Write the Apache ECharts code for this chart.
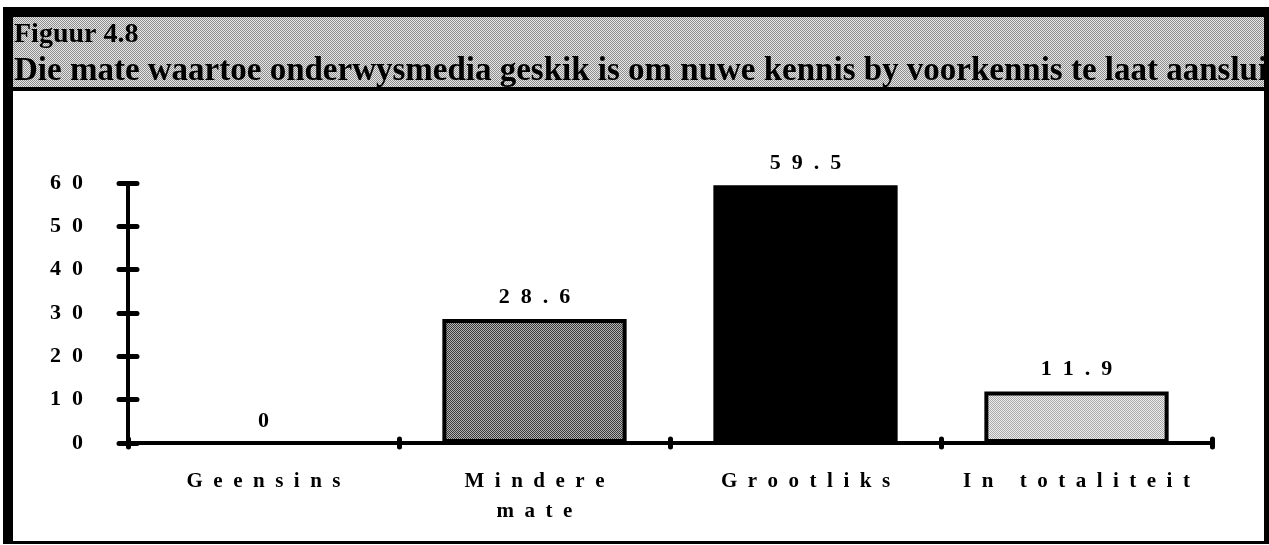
<!DOCTYPE html>
<html>
<head>
<meta charset="utf-8">
<script src="https://cdn.jsdelivr.net/npm/echarts@6/dist/echarts.min.js"></script>
<style>
  html, body { margin: 0; padding: 0; background: #fff; }
  #chart { width: 1269px; height: 545px; }
</style>
</head>
<body>
<div id="chart"></div>
<script>
// ====== DATA ======
const figureLabel = "Figuur 4.8"
const figureTitle = "Die mate waartoe onderwysmedia geskik is om nuwe kennis by voorkennis te laat aansluit"
const categories = ["Geensins", "Mindere\nmate", "Grootliks", "In totaliteit"]
const percentages = [0, 28.6, 59.5, 11.9]
const yTicks = [0, 10, 20, 30, 40, 50, 60]

// ====== HELPERS ======
const serif = "'Liberation Serif', 'Times New Roman', serif"

// spread the characters the way the printed chart does
function spaced(s, gap = "\u2002") {
  return String(s).split("\n")
    .map(line => line.split("").join(gap))
    .join("\n")
}

// small halftone tile used as a pattern fill
function stipple(dark, light) {
  const c = document.createElement("canvas")
  c.width = 2
  c.height = 2
  const ctx = c.getContext("2d")
  ctx.fillStyle = light
  ctx.fillRect(0, 0, 2, 2)
  ctx.fillStyle = dark
  ctx.fillRect(0, 0, 1, 1)
  ctx.fillRect(1, 1, 1, 1)
  return { image: c, repeat: "repeat" }
}

const headerFill = stipple("#8e8e8e", "#e6e6e6")
const barFills = [
  "#ffffff",
  stipple("#3a3a3a", "#b4b4b4"),
  "#000000",
  stipple("#a8a8a8", "#eeeeee")
]

const chart = echarts.init(document.getElementById("chart"))

chart.setOption({
  backgroundColor: "#ffffff",
  animation: false,

  title: [
    {
      text: figureLabel,
      left: 14,
      top: 21,
      padding: 0,
      z: 20,
      textStyle: { fontFamily: serif, fontWeight: "bold", fontSize: 28, color: "#000" }
    },
    {
      text: figureTitle,
      left: 14,
      top: 55,
      padding: 0,
      z: 20,
      textStyle: { fontFamily: serif, fontWeight: "bold", fontSize: 33, color: "#000" }
    }
  ],

  // frame and shaded header band
  graphic: [
    { type: "rect", z: 1, shape: { x: 13, y: 17, width: 1251, height: 71 }, style: { fill: headerFill } },
    { type: "rect", z: 50, shape: { x: 3, y: 7, width: 1264, height: 10 }, style: { fill: "#000" } },
    { type: "rect", z: 50, shape: { x: 3, y: 87, width: 1264, height: 4 }, style: { fill: "#000" } },
    { type: "rect", z: 50, shape: { x: 3, y: 7, width: 10, height: 537 }, style: { fill: "#000" } },
    { type: "rect", z: 50, shape: { x: 1264, y: 7, width: 5, height: 537 }, style: { fill: "#000" } },
    { type: "rect", z: 50, shape: { x: 3, y: 541, width: 1266, height: 3 }, style: { fill: "#000" } }
  ],

  grid: { left: 128, right: 57, top: 183, bottom: 102 },

  xAxis: [
    {
      type: "category",
      data: categories,
      axisLine: { lineStyle: { color: "#000", width: 4, cap: "round" } },
      axisTick: { show: true, length: 4, lineStyle: { color: "#000", width: 5, cap: "round" } },
      axisLabel: {
        interval: 0,
        margin: 24,
        lineHeight: 30,
        fontFamily: serif,
        fontWeight: "bold",
        fontSize: 21,
        color: "#000",
        formatter: v => spaced(v)
      }
    },
    {
      type: "category",
      data: categories,
      position: "bottom",
      axisLine: { show: false },
      axisTick: { show: true, inside: true, length: 4, lineStyle: { color: "#000", width: 5, cap: "round" } },
      axisLabel: { show: false }
    }
  ],

  yAxis: [
    {
      type: "value",
      min: yTicks[0],
      max: yTicks[yTicks.length - 1],
      interval: yTicks[1] - yTicks[0],
      splitLine: { show: false },
      axisLine: { show: true, lineStyle: { color: "#000", width: 4, cap: "round" } },
      axisTick: { show: true, length: 9, lineStyle: { color: "#000", width: 5, cap: "round" } },
      axisLabel: {
        margin: 45,
        fontFamily: serif,
        fontWeight: "bold",
        fontSize: 22,
        color: "#000",
        formatter: v => spaced(v)
      }
    },
    {
      type: "value",
      position: "left",
      min: yTicks[0],
      max: yTicks[yTicks.length - 1],
      interval: yTicks[1] - yTicks[0],
      splitLine: { show: false },
      axisLine: { show: false },
      axisTick: { show: true, inside: true, length: 9, lineStyle: { color: "#000", width: 5, cap: "round" } },
      axisLabel: { show: false }
    }
  ],

  series: [
    {
      type: "bar",
      xAxisIndex: 0,
      yAxisIndex: 0,
      barWidth: "68%",
      data: percentages.map((v, i) => ({
        value: v,
        itemStyle: { color: barFills[i], borderColor: "#000", borderWidth: v > 0 ? 4 : 0 }
      })),
      label: {
        show: true,
        position: "top",
        distance: 11,
        fontFamily: serif,
        fontWeight: "bold",
        fontSize: 22,
        color: "#000",
        formatter: p => spaced(p.value)
      }
    }
  ]
})
</script>
</body>
</html>
